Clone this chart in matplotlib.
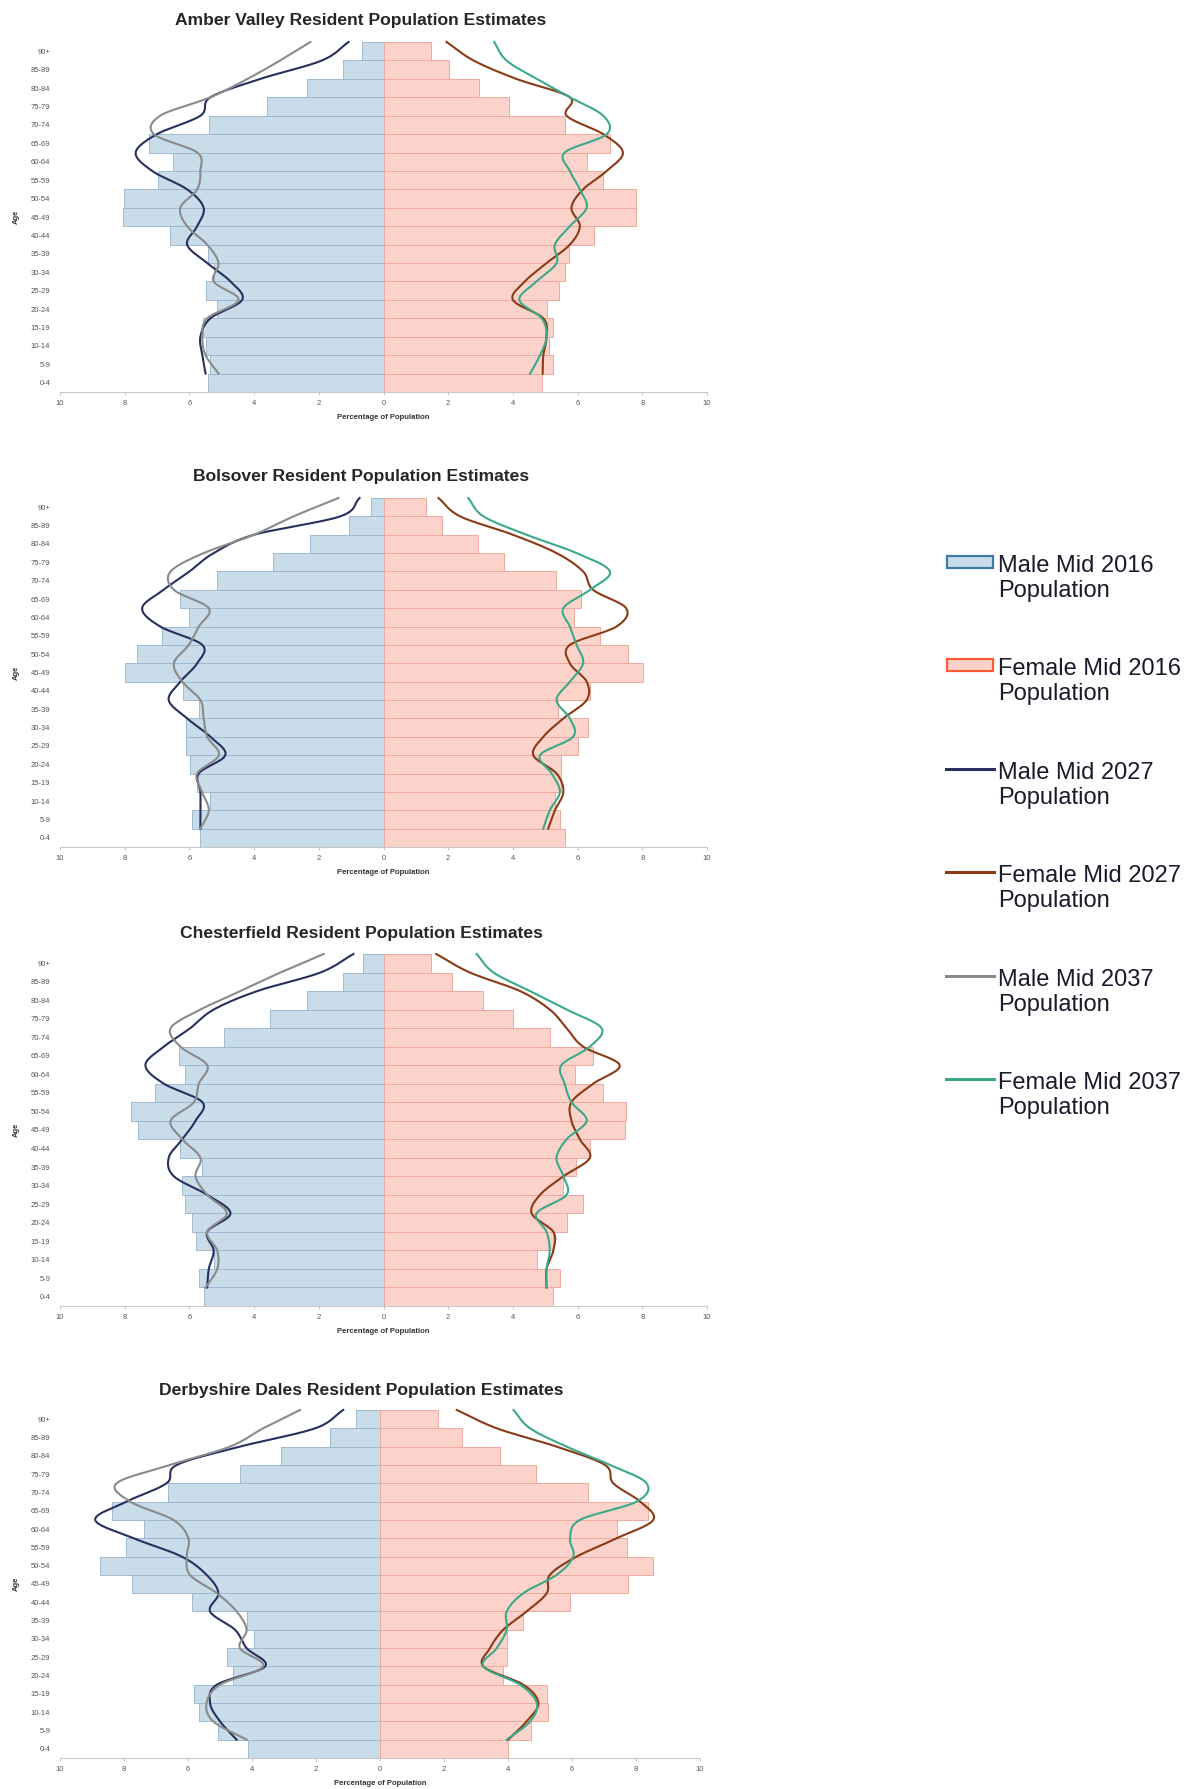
import matplotlib

matplotlib.use("Agg")
import matplotlib.pyplot as plt  # noqa: E402
import numpy as np  # noqa: E402
from matplotlib.patches import Rectangle  # noqa: E402
from matplotlib.lines import Line2D  # noqa: E402

plt.rcParams["font.family"] = ["Liberation Sans", "DejaVu Sans"]

W, H = 1195, 1789

# age bands, top of the pyramid first
AGES = ["90+", "85-89", "80-84", "75-79", "70-74", "65-69", "60-64", "55-59",
        "50-54", "45-49", "40-44", "35-39", "30-34", "25-29", "20-24",
        "15-19", "10-14", "5-9", "0-4"]

# --- Amber Valley (% of population) ---
AV_M16 = [0.67, 1.26, 2.35, 3.6, 5.4, 7.26, 6.5, 6.98, 8.03, 8.06, 6.59, 5.44,
          5.25, 5.49, 5.15, 5.58, 5.5, 5.35, 5.44]
AV_F16 = [1.47, 2.03, 2.96, 3.89, 5.61, 7.0, 6.3, 6.79, 7.82, 7.82, 6.51, 5.74,
          5.6, 5.43, 5.06, 5.25, 5.12, 5.25, 4.89]
AV_M27 = [1.08, 1.9, 3.8, 5.35, 5.66, 7.0, 7.66, 7.15, 6.07, 5.56, 5.76, 6.07,
          5.45, 4.73, 4.37, 5.35, 5.66, 5.6, 5.5]
AV_F27 = [1.95, 2.78, 4.1, 5.76, 5.66, 6.79, 7.4, 6.9, 6.17, 5.81, 6.07, 5.76,
          5.04, 4.37, 4.0, 4.94, 5.04, 4.94, 4.92]
AV_M37 = [2.26, 3.19, 4.2, 5.35, 6.9, 7.1, 5.76, 5.66, 5.76, 6.28, 6.07, 5.45,
          5.1, 5.25, 4.48, 5.45, 5.6, 5.5, 5.1]
AV_F37 = [3.42, 3.8, 4.73, 5.76, 6.79, 6.9, 5.6, 5.76, 6.07, 6.28, 5.76, 5.3,
          5.35, 4.73, 4.2, 4.89, 5.04, 4.84, 4.53]

# --- Bolsover ---
BO_M16 = [0.39, 1.08, 2.26, 3.42, 5.16, 6.28, 6.02, 6.84, 7.63, 8.0, 6.2, 5.7,
          6.12, 6.09, 5.97, 5.76, 5.35, 5.92, 5.68]
BO_F16 = [1.32, 1.8, 2.93, 3.72, 5.33, 6.12, 5.88, 6.69, 7.56, 8.02, 6.38, 5.4,
          6.33, 6.0, 5.5, 5.5, 5.3, 5.45, 5.6]
BO_M27 = [0.74, 1.34, 4.0, 5.25, 6.0, 6.8, 7.46, 6.9, 5.6, 5.76, 6.28, 6.64,
          6.07, 5.35, 4.89, 5.71, 5.66, 5.66, 5.66]
BO_F27 = [1.7, 2.37, 4.0, 5.35, 6.17, 6.48, 7.5, 7.2, 5.76, 5.76, 6.28, 6.28,
          5.56, 4.94, 4.63, 5.35, 5.56, 5.3, 5.09]
BO_M37 = [1.39, 2.78, 4.0, 5.56, 6.58, 6.48, 5.4, 5.71, 6.02, 6.48, 6.22, 5.66,
          5.56, 5.45, 5.09, 5.76, 5.61, 5.4, 5.66]
BO_F37 = [2.62, 3.09, 4.42, 5.97, 7.0, 6.38, 5.56, 5.76, 5.97, 6.17, 5.76, 5.35,
          5.76, 5.86, 4.84, 5.2, 5.45, 5.14, 4.94]

# --- Chesterfield ---
CH_M16 = [0.62, 1.26, 2.35, 3.5, 4.94, 6.33, 6.15, 7.05, 7.82, 7.59, 6.28, 5.6,
          6.22, 6.15, 5.92, 5.79, 5.25, 5.71, 5.56]
CH_F16 = [1.47, 2.11, 3.09, 4.0, 5.14, 6.48, 5.92, 6.79, 7.51, 7.46, 6.38, 5.95,
          5.56, 6.17, 5.66, 5.25, 4.73, 5.45, 5.25]
CH_M27 = [0.93, 1.95, 3.9, 5.25, 5.97, 6.79, 7.36, 6.79, 5.6, 5.81, 6.22, 6.64,
          6.48, 5.45, 4.73, 5.45, 5.25, 5.4, 5.45]
CH_F27 = [1.63, 2.67, 4.22, 5.14, 5.66, 6.17, 7.3, 6.48, 5.81, 5.81, 6.07, 6.38,
          5.56, 4.84, 4.58, 5.25, 5.25, 5.04, 5.04]
CH_M37 = [1.85, 3.19, 4.42, 5.66, 6.58, 6.28, 5.45, 5.71, 5.86, 6.58, 6.22, 5.66,
          5.81, 5.45, 4.84, 5.45, 5.14, 5.14, 5.5]
CH_F37 = [2.88, 3.4, 4.53, 5.66, 6.74, 6.38, 5.5, 5.6, 5.81, 6.28, 5.66, 5.35,
          5.56, 5.66, 4.73, 5.04, 5.14, 5.04, 5.04]

# --- Derbyshire Dales ---
DD_M16 = [0.75, 1.56, 3.09, 4.38, 6.61, 8.39, 7.38, 7.94, 8.75, 7.76, 5.89, 4.17,
          3.94, 4.79, 4.58, 5.81, 5.66, 5.05, 4.11]
DD_F16 = [1.82, 2.55, 3.75, 4.86, 6.51, 8.39, 7.4, 7.71, 8.52, 7.76, 5.94, 4.48,
          3.96, 3.96, 3.85, 5.21, 5.26, 4.72, 3.99]
DD_M27 = [1.15, 2.03, 4.38, 6.35, 6.67, 7.92, 8.9, 7.7, 6.2, 5.42, 5.05, 5.31,
          4.53, 4.17, 3.59, 5.1, 5.31, 5.0, 4.48]
DD_F27 = [2.4, 3.65, 5.52, 7.03, 7.29, 8.13, 8.54, 7.4, 6.15, 5.31, 5.21, 4.58,
          3.85, 3.44, 3.23, 4.48, 4.95, 4.58, 4.01]
DD_M37 = [2.5, 3.65, 4.69, 6.56, 8.23, 7.81, 6.46, 5.99, 6.04, 5.94, 5.1, 4.48,
          4.17, 4.38, 3.65, 5.0, 5.42, 5.21, 4.17]
DD_F37 = [4.17, 4.69, 5.83, 7.19, 8.33, 8.02, 6.25, 5.94, 6.04, 5.52, 4.48, 3.96,
          3.96, 3.65, 3.23, 4.38, 4.9, 4.69, 3.96]

TITLES = ["Amber Valley", "Bolsover", "Chesterfield", "Derbyshire Dales"]
SERIES = [
    (AV_M16, AV_F16, AV_M27, AV_F27, AV_M37, AV_F37),
    (BO_M16, BO_F16, BO_M27, BO_F27, BO_M37, BO_F37),
    (CH_M16, CH_F16, CH_M27, CH_F27, CH_M37, CH_F37),
    (DD_M16, DD_F16, DD_M27, DD_F27, DD_M37, DD_F37),
]
LEGEND = ["Male Mid 2016", "Female Mid 2016", "Male Mid 2027",
          "Female Mid 2027", "Male Mid 2037", "Female Mid 2037"]

# layout in pixels: (left, top, right, bottom) of plot area, title y
BOXES = [(60, 42, 707, 392, 21), (60, 498, 707, 847, 477),
         (60, 954, 707, 1306, 933), (60, 1410, 700, 1758, 1391)]

M_FILL, M_EDGE = "#c9dcea", "#9fbad0"
F_FILL, F_EDGE = "#fcd3ca", "#eeaa9e"
C_M27, C_F27, C_M37, C_F37 = "#26305f", "#8a3a14", "#8a8a8a", "#3aa98a"


def smooth(xs, ys, n=16):
    """Excel-style smoothed line (Catmull-Rom through the points)."""
    p = np.column_stack([xs, ys]).astype(float)
    p = np.vstack([2 * p[0] - p[1], p, 2 * p[-1] - p[-2]])
    t = np.linspace(0, 1, n, endpoint=False)[:, None]
    out = []
    for i in range(1, len(p) - 2):
        p0, p1, p2, p3 = p[i - 1], p[i], p[i + 1], p[i + 2]
        out.append(0.5 * (2 * p1 + (p2 - p0) * t
                          + (2 * p0 - 5 * p1 + 4 * p2 - p3) * t ** 2
                          + (3 * p1 - p0 - 3 * p2 + p3) * t ** 3))
    out.append(p[-2][None])
    res = np.vstack(out)
    return res[:, 0], res[:, 1]


fig = plt.figure(figsize=(W / 100, H / 100), dpi=100)

pos = np.arange(len(AGES))[::-1]  # 90+ at top
for name, (m16, f16, m27, f27, m37, f37), (l, t, r, b, ty) in zip(TITLES, SERIES, BOXES):
    ax = fig.add_axes([l / W, 1 - b / H, (r - l) / W, (b - t) / H])
    ax.barh(pos, -np.array(m16), height=1.0, color=M_FILL, edgecolor=M_EDGE, lw=0.7)
    ax.barh(pos, f16, height=1.0, color=F_FILL, edgecolor=F_EDGE, lw=0.7)
    # projection lines sit on the band boundaries (offset half a row)
    for vals, sign, col in ((m27, -1, C_M27), (f27, 1, C_F27),
                            (m37, -1, C_M37), (f37, 1, C_F37)):
        sx, sy = smooth(sign * np.array(vals), pos + 0.5)
        ax.plot(sx, sy, color=col, lw=1.5, clip_on=False, zorder=3)
    ax.set_xlim(-10, 10)
    ax.set_ylim(-0.5, 18.5)
    ax.set_xticks(np.arange(-10, 11, 2))
    ax.set_xticklabels([str(abs(v)) for v in range(-10, 11, 2)])
    ax.set_yticks(pos)
    ax.set_yticklabels(AGES)
    ax.tick_params(axis="y", length=0, pad=7, labelsize=5.5, labelcolor="#555555")
    ax.tick_params(axis="x", length=2, width=0.6, color="#bbbbbb", pad=4,
                   labelsize=5.5, labelcolor="#555555")
    for s in ("left", "right", "top"):
        ax.spines[s].set_visible(False)
    ax.spines["bottom"].set_color("#c8c8c8")
    ax.spines["bottom"].set_linewidth(0.8)
    ax.set_xlabel("Percentage of Population", fontsize=5.5, fontweight="bold",
                  color="#333333", labelpad=5)
    fig.text(16 / W, 1 - (t + b) / 2 / H, "Age", rotation=90, fontsize=5.5,
             fontweight="bold", color="#333333", ha="center", va="center")
    fig.text(361 / W, 1 - ty / H, f"{name} Resident Population Estimates",
             fontsize=12.6, fontweight="bold", color="#262626",
             ha="center", va="center")

# legend drawn by hand: handle on the first text line
lg = fig.add_axes([0, 0, 1, 1], facecolor="none")
lg.set_xlim(0, W)
lg.set_ylim(H, 0)
lg.axis("off")
handles = [("patch", M_FILL, "#3a7ca5"), ("patch", F_FILL, "#ff5a36"),
           ("line", C_M27, None), ("line", C_F27, None),
           ("line", C_M37, None), ("line", C_F37, None)]
for i, (label, (kind, c1, c2)) in enumerate(zip(LEGEND, handles)):
    y = 562 + i * 103.4
    if kind == "patch":
        lg.add_patch(Rectangle((947, y - 6), 46, 12, facecolor=c1, edgecolor=c2, lw=1.6))
    else:
        lg.add_line(Line2D([946, 994], [y, y], color=c1, lw=2.2))
    lg.text(998, y + 10, label, fontsize=17, color="#1a1a2a",
            ha="left", va="baseline")
    lg.text(998, y + 35, "Population", fontsize=17, color="#1a1a2a",
            ha="left", va="baseline")

fig.savefig("out.png", dpi=100)
